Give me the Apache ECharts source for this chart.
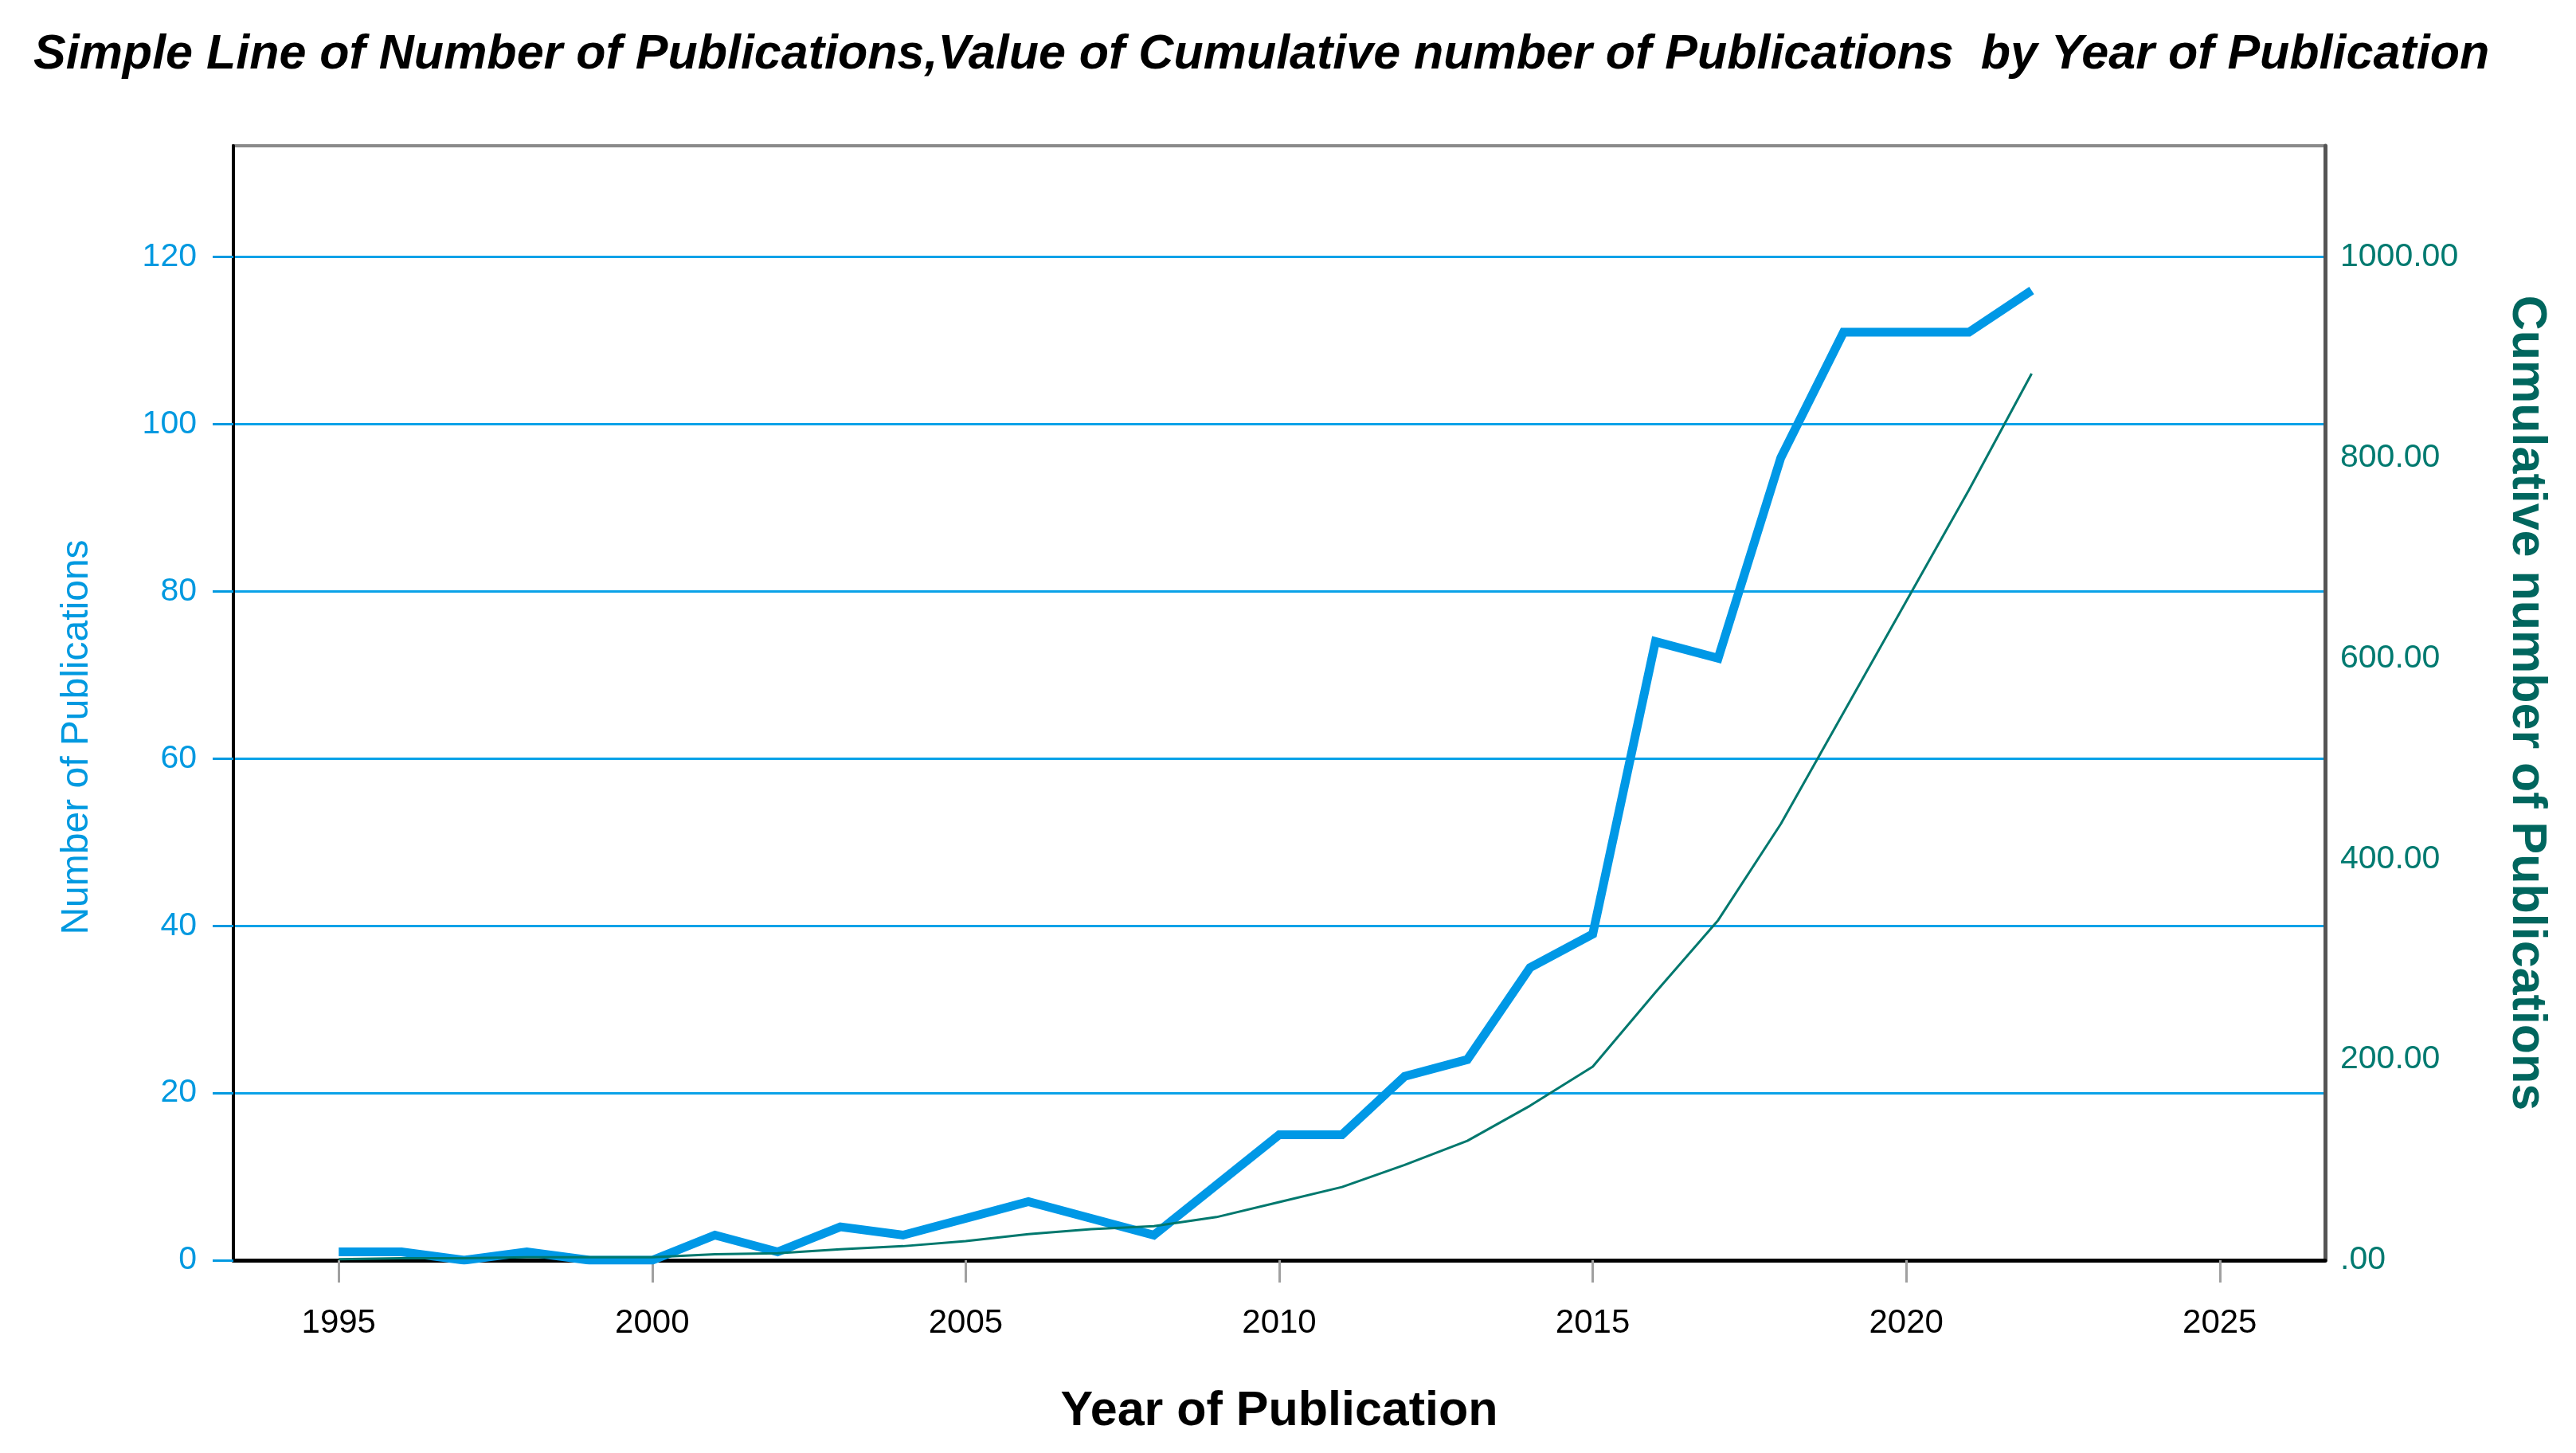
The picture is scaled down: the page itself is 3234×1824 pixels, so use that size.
<!DOCTYPE html>
<html>
<head>
<meta charset="utf-8">
<script src="https://cdn.jsdelivr.net/npm/echarts@6/dist/echarts.min.js"></script>
<style>html,body{margin:0;padding:0;background:#fff}#c{width:3234px;height:1824px}</style>
</head>
<body>
<div id="c"></div>
<script>
const years = [1995,1996,1997,1998,1999,2000,2001,2002,2003,2004,2005,2006,2007,2008,2009,2010,2011,2012,2013,2014,2015,2016,2017,2018,2019,2020,2021,2022];
const publications = [1,1,0,1,0,0,3,1,4,3,5,7,5,3,9,15,15,22,24,35,39,74,72,96,111,111,111,116];
const cumulative = [1,2,2,3,3,3,6,7,11,14,19,26,31,34,43,58,73,95,119,154,193,267,339,435,546,657,768,884];
const xTicks = [1995,2000,2005,2010,2015,2020,2025];
const leftTicks = [0,20,40,60,80,100,120];
const rightTicks = [0,200,400,600,800,1000];

const FONT = 'Liberation Sans, Arial, sans-serif';
const chart = echarts.init(document.getElementById('c'), null, {renderer:'canvas', width:3234, height:1824});
chart.setOption({
  backgroundColor:'#fff',
  animation:false,
  title:{
    text:'Simple Line of Number of Publications,Value of Cumulative number of Publications  by Year of Publication',
    left:37, top:34,
    textStyle:{fontFamily:FONT, fontSize:61, fontWeight:'bold', fontStyle:'italic', color:'#000'}
  },
  grid:{left:293, right:315, top:183, bottom:242, show:true, borderColor:'#8a8a8a', borderWidth:4, backgroundColor:'#fff'},
  xAxis:{
    type:'value', min:1993.32, max:2026.68,
    name:'Year of Publication', nameLocation:'middle', nameGap:160,
    nameTextStyle:{fontFamily:FONT, fontSize:61, fontWeight:'bold', color:'#000'},
    axisLine:{show:true, lineStyle:{color:'#000', width:5}},
    axisTick:{show:true, length:28, lineStyle:{color:'#a0a0a0', width:3}, customValues:xTicks},
    axisLabel:{margin:58, fontFamily:FONT, fontSize:42, color:'#000', customValues:xTicks, formatter:v=>String(v)},
    splitLine:{show:false}
  },
  yAxis:[{
    type:'value', min:0, max:133.3, interval:20, position:'left',
    name:'Number of Publications', nameLocation:'middle', nameGap:172,
    nameTextStyle:{fontFamily:FONT, fontSize:48, color:'#0099e0', padding:[0,86,0,0]},
    axisLine:{show:true, lineStyle:{color:'#000', width:4}},
    axisTick:{show:true, length:26, lineStyle:{color:'#0099e0', width:3}, customValues:leftTicks},
    axisLabel:{margin:46, fontFamily:FONT, fontSize:41, color:'#0099e0', showMaxLabel:false,
      formatter:v=> leftTicks.indexOf(Math.round(v*1000)/1000)>=0 ? String(v) : ''},
    splitLine:{show:true, lineStyle:{color:'#0aa2e8', width:3}}
  },{
    type:'value', min:0, max:1111.1, interval:200, position:'right',
    name:'Cumulative number of Publications', nameLocation:'middle', nameGap:222, nameRotate:-90,
    nameTextStyle:{fontFamily:FONT, fontSize:61, fontWeight:'bold', color:'#00665e'},
    axisLine:{show:true, lineStyle:{color:'#555', width:5}},
    axisTick:{show:false},
    axisLabel:{margin:19, fontFamily:FONT, fontSize:41, color:'#007a70', showMaxLabel:false,
      formatter:v=> rightTicks.indexOf(Math.round(v*1000)/1000)>=0 ? (v===0?'.00':v.toFixed(2)) : ''},
    splitLine:{show:false}
  }],
  series:[{
    name:'Number of Publications', type:'line', yAxisIndex:0,
    data:years.map((y,i)=>[y,publications[i]]),
    showSymbol:false, symbol:'none',
    lineStyle:{color:'#0098e6', width:11, join:'miter'},
    z:3
  },{
    name:'Cumulative number of Publications', type:'line', yAxisIndex:1,
    data:years.map((y,i)=>[y,cumulative[i]]),
    showSymbol:false, symbol:'none',
    lineStyle:{color:'#00786e', width:3},
    z:4
  }]
});
</script>
</body>
</html>
